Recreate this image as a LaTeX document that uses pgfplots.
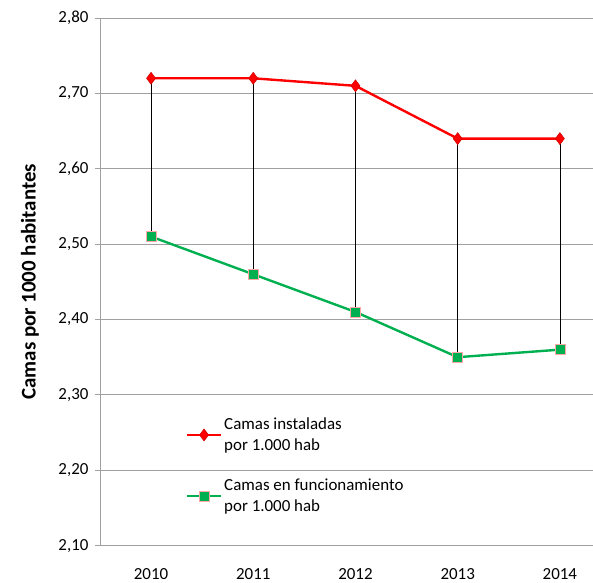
\documentclass[border=0pt]{standalone}
\usepackage{pgfplots}
\pgfplotsset{compat=1.18}
\usepackage{fontspec}
\setmainfont{Carlito}
\definecolor{exred}{HTML}{FF0000}
\definecolor{exgreen}{HTML}{00B050}
\definecolor{gridgray}{HTML}{A0A0A0}
\begin{document}
\begin{tikzpicture}
  \begin{axis}[
      at={(0,0)}, anchor=south west,
      scale only axis,
      width=493bp, height=528bp,
      xmin=-0.5, xmax=4.32,
      ymin=2.1, ymax=2.8,
      ytick={2.1,2.2,...,2.81},
      xtick={0,1,2,3,4},
      xticklabels={2010,2011,2012,2013,2014},
      axis x line*=bottom, axis y line*=left,
      axis line style={gridgray, line width=0.8pt},
      ymajorgrids=true,
      grid style={gridgray, line width=0.8pt},
      tick align=outside,
      major tick length=5bp,
      ytick style={gridgray, line width=0.8pt},
      xtick style={draw=none},
      yticklabel style={
        /pgf/number format/fixed,
        /pgf/number format/fixed zerofill,
        /pgf/number format/precision=2,
        /pgf/number format/use comma,
        /pgf/number format/assume math mode=true,
        font=\fontsize{17}{20}\selectfont, xshift=-3bp},
      xticklabel style={font=\fontsize{17}{20}\selectfont, yshift=-14bp},
      ylabel={\textbf{Camas por 1000 habitantes}},
      ylabel style={font=\fontsize{21}{24}\selectfont, at={(axis description cs:-0.142,0.5)}, anchor=center},
      legend style={draw=none, fill=none, at={(rel axis cs:0.168,0.25)}, anchor=north west,
        font=\fontsize{17}{21}\selectfont, nodes={align=left}, row sep=23bp},
      legend cell align=left,
      legend image code/.code={
        \draw[mark repeat=2, mark phase=2, #1] plot coordinates {(0bp,0bp) (17bp,0bp) (34bp,0bp)};},
    ]
    \addplot[exred, line width=2.4pt, mark=diamond*, mark size=6bp,
      mark options={fill=exred, draw=exred!80!black, line width=0.5pt}]
      coordinates {(0,2.72) (1,2.72) (2,2.71) (3,2.64) (4,2.64)};
    \addlegendentry{Camas instaladas\\por 1.000 hab}
    \addplot[exgreen, line width=2.4pt, mark=square*, mark size=5bp,
      mark options={fill=exgreen, draw=exred!35, line width=0.6pt}]
      coordinates {(0,2.51) (1,2.46) (2,2.41) (3,2.35) (4,2.36)};
    \addlegendentry{Camas en funcionamiento\\por 1.000 hab}
    \addplot[black, line width=0.7pt, forget plot] coordinates {(0,2.51) (0,2.72)};
    \addplot[black, line width=0.7pt, forget plot] coordinates {(1,2.46) (1,2.72)};
    \addplot[black, line width=0.7pt, forget plot] coordinates {(2,2.41) (2,2.71)};
    \addplot[black, line width=0.7pt, forget plot] coordinates {(3,2.35) (3,2.64)};
    \addplot[black, line width=0.7pt, forget plot] coordinates {(4,2.36) (4,2.64)};
  \end{axis}
  \useasboundingbox (-100bp,-33bp) rectangle (493bp,546bp);
\end{tikzpicture}
\end{document}
